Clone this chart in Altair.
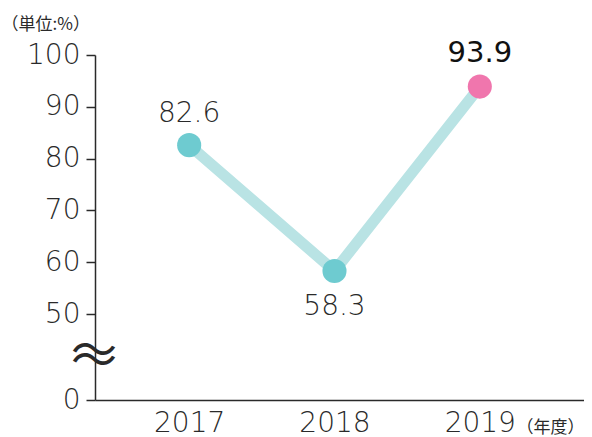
import altair as alt
import pandas as pd

years = [2017, 2018, 2019]
values = [82.6, 58.3, 93.9]
highlight = [False, False, True]
y_ticks = [0, 50, 60, 70, 80, 90, 100]

df = pd.DataFrame({"year": years, "value": values, "hl": highlight})
df["label"] = [f"{v:.1f}" for v in values]

NUM = "DejaVu Sans"
JP = "Noto Sans CJK JP"
TXT = "#2a2a2a"

x_scale = alt.Scale(domain=[2016.352, 2019.717], nice=False, zero=False)
x_enc = alt.X("year:Q", scale=x_scale,
              axis=alt.Axis(values=years, format="d", title="（年度）", titleX=421, titleY=27,
                            titleAlign="left", titleBaseline="middle", titleFont=JP,
                            titleFontSize=17, titleFontWeight="normal", titleColor=TXT,
                            labelAngle=0, labelFont=NUM, labelFontSize=28, labelFontWeight=200,
                            labelColor=TXT, labelPadding=9, ticks=False, domainColor=TXT,
                            domainWidth=1.5, grid=False, labelFlush=False))
y_scale = alt.Scale(domain=[0, 50, 100], range=[345, 259, 0])
y_enc = alt.Y("value:Q", scale=y_scale,
              axis=alt.Axis(values=y_ticks, title="（単位:%）", titleAngle=0, titleX=-94,
                            titleY=-31, titleAlign="left", titleBaseline="middle",
                            titleFont=JP, titleFontSize=17, titleFontWeight="normal",
                            titleColor=TXT, labelFont=NUM, labelFontSize=28, labelFontWeight=200,
                            labelColor=TXT, labelPadding=6, tickSize=9, tickColor=TXT,
                            tickWidth=1.5, domainColor=TXT, domainWidth=1.5, grid=False))

base = alt.Chart(df)

line = base.mark_line(color="#b9e3e4", strokeWidth=11).encode(x=x_enc, y=y_enc)
points = base.mark_circle(size=580, opacity=1).encode(
    x="year:Q", y="value:Q",
    color=alt.Color("hl:N", scale=alt.Scale(domain=[False, True], range=["#6ecbd0", "#f076ad"]),
                    legend=None))

above = base.transform_filter("datum.year == 2017").mark_text(
    dy=-31, font=NUM, fontSize=28, fontWeight=200, color=TXT).encode(
    x="year:Q", y="value:Q", text="label:N")
top = base.transform_filter("datum.year == 2019").mark_text(
    dy=-34, font=NUM, fontSize=29, fontWeight="normal", color="#111111").encode(
    x="year:Q", y="value:Q", text="label:N")
below = base.transform_filter("datum.year == 2018").mark_text(
    dy=36, font=NUM, fontSize=28, fontWeight=200, color=TXT).encode(
    x="year:Q", y="value:Q", text="label:N")

brk_df = pd.DataFrame({"v": [25.0]})
brk_up = alt.Chart(brk_df).mark_text(
    text="～", font=JP, fontSize=46, color=TXT, align="center", baseline="middle", dy=-5
).encode(x=alt.value(-1), y=alt.Y("v:Q", scale=y_scale))
brk_dn = alt.Chart(brk_df).mark_text(
    text="～", font=JP, fontSize=46, color=TXT, align="center", baseline="middle", dy=5
).encode(x=alt.value(-1), y=alt.Y("v:Q", scale=y_scale))

chart = alt.layer(line, points, above, top, below, brk_up, brk_dn).properties(
    width=489, height=345,
    autosize=alt.AutoSizeParams(type="none"),
    padding={"left": 87, "top": 47, "right": 0, "bottom": 37}
).configure_view(stroke=None)

chart.save("out.html", embed_options={"renderer": "svg", "actions": False})
